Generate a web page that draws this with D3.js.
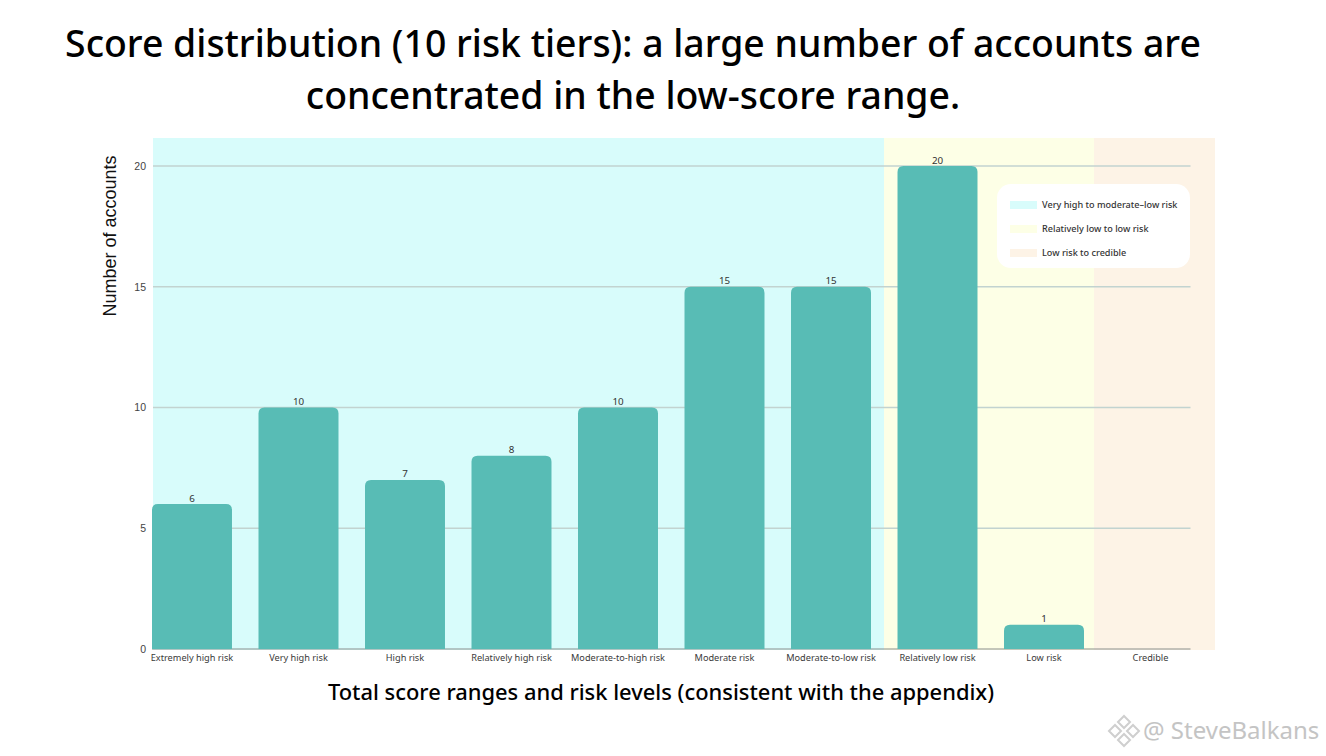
<!DOCTYPE html>
<html>
<head>
<meta charset="utf-8">
<script src="https://cdn.jsdelivr.net/npm/d3@7"></script>
<style>
html, body { margin: 0; padding: 0; background: #fff; overflow: hidden; }
text { font-family: "Noto Sans", sans-serif; }
</style>
</head>
<body>
<div id="chart"></div>
<script>
//****data****
const categories = ["Extremely high risk", "Very high risk", "High risk", "Relatively high risk", "Moderate-to-high risk", "Moderate risk", "Moderate-to-low risk", "Relatively low risk", "Low risk", "Credible"];
const counts = [6, 10, 7, 8, 10, 15, 15, 20, 1, 0];
const yTicks = [0, 5, 10, 15, 20];
const titleLines = ["Score distribution (10 risk tiers): a large number of accounts are", "concentrated in the low-score range."];
const legendLabels = ["Very high to moderate\u2013low risk", "Relatively low to low risk", "Low risk to credible"];
const zoneColors = ["#d8fcfb", "#fdffe6", "#fdf3e6"];

//****configuration****
const w = 1326;
const h = 756;
const barColor = "#58bcb5";
const zoneEdges = [153, 884, 1094, 1215];
const plotTop = 138;
const baseline = 649;

const svg = d3.select("#chart")
    .append("svg")
    .attr("width", w)
    .attr("height", h)
    .style("display", "block");

const x = d3.scaleBand()
    .domain(categories)
    .range([152, 1190.5])
    .paddingInner(0.249)
    .paddingOuter(0);

const y = d3.scaleLinear()
    .domain([0, 20])
    .range([baseline, 166]);

// coloured zones behind the plot
zoneColors.forEach((c, i) => {
    svg.append("rect")
        .attr("x", zoneEdges[i])
        .attr("y", plotTop)
        .attr("width", zoneEdges[i + 1] - zoneEdges[i])
        .attr("height", baseline + 1 - plotTop)
        .attr("fill", c);
});

// gridlines
svg.append("g")
    .selectAll("line")
    .data(yTicks.filter(d => d > 0))
    .join("line")
    .attr("x1", 153)
    .attr("x2", 1190.5)
    .attr("y1", d => y(d))
    .attr("y2", d => y(d))
    .attr("stroke", "#c2d3d0")
    .attr("stroke-width", 1.6);

// x axis, only the labels and the base line
const xAxis = svg.append("g")
    .attr("transform", "translate(0," + baseline + ")")
    .call(d3.axisBottom(x).tickSize(0).tickPadding(5));
xAxis.select(".domain").attr("stroke", "#8a8f8c").attr("stroke-width", 1).attr("d", "M152,0H1190.5");
xAxis.selectAll("text")
    .attr("fill", "#3a3a3a")
    .style("font-size", "9.2px")
    .style("font-family", "'Noto Sans', sans-serif");

// y axis labels
const yAxis = svg.append("g")
    .attr("transform", "translate(146,0)")
    .call(d3.axisLeft(y).tickValues(yTicks).tickSize(0).tickPadding(0));
yAxis.select(".domain").remove();
yAxis.selectAll("text")
    .attr("fill", "#444")
    .style("font-size", "10.5px")
    .style("font-family", "'Liberation Sans', sans-serif");

// bars, rounded on top only
function barPath(d, i) {
    const x0 = x(categories[i]);
    const x1 = x0 + x.bandwidth();
    const top = y(d);
    const r = Math.min(6, baseline - top);
    return "M" + x0 + "," + baseline + "V" + (top + r) + "Q" + x0 + "," + top + " " + (x0 + r) + "," + top +
        "H" + (x1 - r) + "Q" + x1 + "," + top + " " + x1 + "," + (top + r) + "V" + baseline + "Z";
}

svg.append("g")
    .selectAll("path")
    .data(counts.filter(d => d > 0))
    .join("path")
    .attr("d", barPath)
    .attr("fill", barColor);

// value labels
svg.append("g")
    .selectAll("text")
    .data(counts.filter(d => d > 0))
    .join("text")
    .attr("x", (d, i) => x(categories[i]) + x.bandwidth() / 2)
    .attr("y", d => y(d) - 2.5)
    .attr("text-anchor", "middle")
    .attr("fill", "#333")
    .style("font-size", "9.8px")
    .text(d => d);

// title
svg.append("g")
    .selectAll("text")
    .data(titleLines)
    .join("text")
    .attr("x", 633)
    .attr("y", (d, i) => 57 + i * 52)
    .attr("text-anchor", "middle")
    .attr("fill", "#000")
    .style("font-size", "37.4px")
    .style("font-weight", 500)
    .text(d => d);

// axis titles
svg.append("text")
    .attr("x", 661)
    .attr("y", 700)
    .attr("text-anchor", "middle")
    .attr("fill", "#000")
    .style("font-size", "21.9px")
    .style("font-weight", 500)
    .text("Total score ranges and risk levels (consistent with the appendix)");

svg.append("text")
    .attr("transform", "translate(116,236) rotate(-90)")
    .attr("text-anchor", "middle")
    .attr("fill", "#111")
    .style("font-size", "18px")
    .style("font-family", "'Liberation Sans', sans-serif")
    .text("Number of accounts");

// legend
const legend = svg.append("g");
legend.append("rect")
    .attr("x", 997)
    .attr("y", 184)
    .attr("width", 193)
    .attr("height", 84)
    .attr("rx", 14)
    .attr("fill", "#fff");

legendLabels.forEach((label, i) => {
    const rowY = 205 + i * 24;
    legend.append("rect")
        .attr("x", 1010)
        .attr("y", rowY - 4)
        .attr("width", 27)
        .attr("height", 8)
        .attr("fill", zoneColors[i]);
    legend.append("text")
        .attr("x", 1042)
        .attr("y", rowY + 3)
        .attr("fill", "#333")
        .style("font-size", "9.1px")
        .style("font-weight", 500)
        .text(label);
});

// watermark
const mark = svg.append("g")
    .attr("fill", "none")
    .attr("stroke", "#cfcfcf")
    .attr("stroke-width", 2);
[[1124, 722], [1115, 731], [1133, 731], [1124, 740]].forEach(p => {
    mark.append("path")
        .attr("d", d3.line()([[p[0] - 6, p[1]], [p[0], p[1] - 6], [p[0] + 6, p[1]], [p[0], p[1] + 6]]) + "Z");
});

svg.append("text")
    .attr("x", 1143)
    .attr("y", 739)
    .attr("fill", "#c4c4c4")
    .style("font-size", "24px")
    .text("@ SteveBalkans");
</script>
</body>
</html>
